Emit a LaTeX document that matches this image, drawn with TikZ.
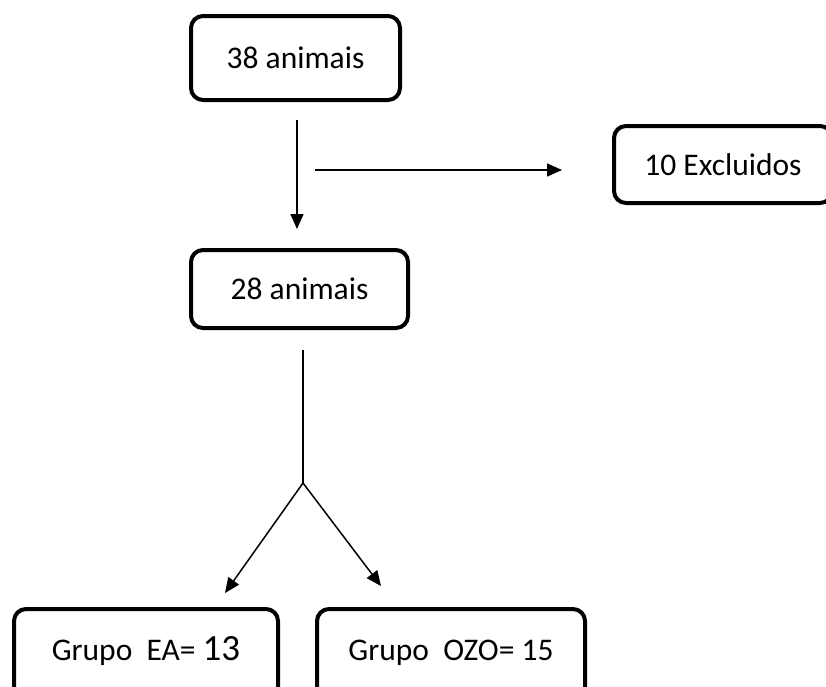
\documentclass[tikz,border=0pt]{standalone}
\usepackage{fontspec}
\setmainfont{Carlito}
\usetikzlibrary{arrows.meta}

\tikzset{
  flowbox/.style={rectangle, rounded corners=12pt, draw=black, line width=4pt,
    align=center, inner sep=0, font=\fontsize{31.5}{38}\selectfont},
  flowarrow/.style={line width=1.5pt, -{Triangle[length=15pt, width=13pt]}}
}

\begin{document}
\begin{tikzpicture}[x=1pt, y=-1pt]
  \useasboundingbox (0,0) rectangle (826,686);

  \node[flowbox, minimum width=209pt, minimum height=84pt] (animais38) at (295.5,58) {38 animais};
  \node[flowbox, minimum width=218pt, minimum height=77pt] (excluidos) at (723,164.5) {10 Excluidos};
  \node[flowbox, minimum width=217pt, minimum height=78pt] (animais28) at (299.5,289) {28 animais};
  % lower edge of the two groups falls below the page
  \node[flowbox, minimum width=264pt, minimum height=92pt] (grupoEA) at (146,655) {\raisebox{10pt}{Grupo\ \ EA= {\fontsize{37}{40}\selectfont\smash{13}}}};
  \node[flowbox, minimum width=268pt, minimum height=92pt] (grupoOZO) at (451,655) {\raisebox{10pt}{Grupo\ \ OZO= 15}};

  % arrow ends
  \coordinate (down1) at (297,120);
  \coordinate (down2) at (297,229);
  \coordinate (out1) at (315,170);
  \coordinate (out2) at (562,170);
  \coordinate (stem) at (303,350);
  \coordinate (split) at (303,483);
  \coordinate (leftend) at (225,593);
  \coordinate (rightend) at (381,586);

  \draw[flowarrow] (down1) -- (down2);
  \draw[flowarrow] (out1) -- (out2);
  \draw[line width=1.5pt] (stem) -- (split);
  \draw[flowarrow] (split) -- (leftend);
  \draw[flowarrow] (split) -- (rightend);
\end{tikzpicture}
\end{document}
